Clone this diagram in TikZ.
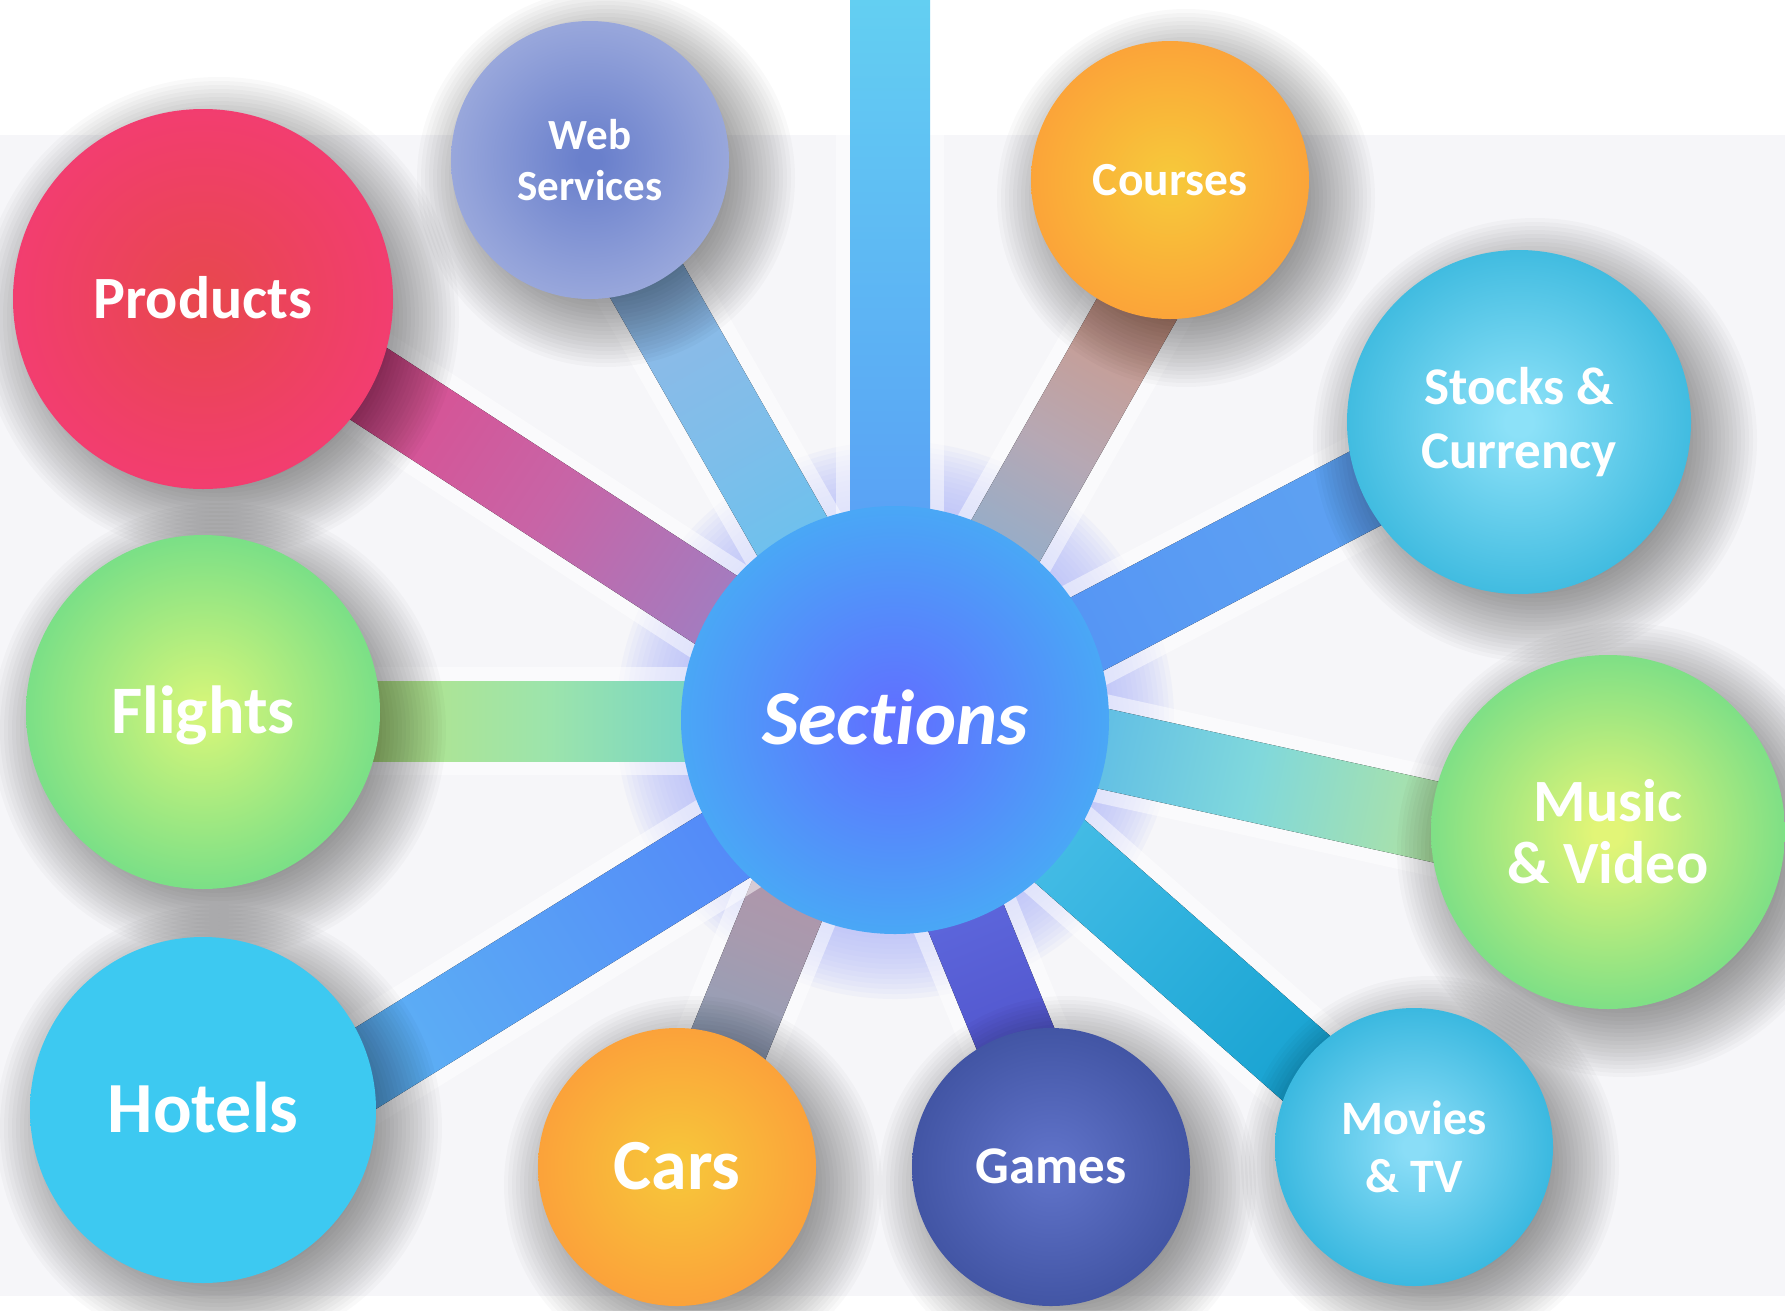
\documentclass[tikz,border=0pt]{standalone}
\usepackage{fontspec}
\setmainfont{Carlito}[Ligatures=NoCommon, RawFeature={-liga;-clig;-calt;-dlig}]
\usetikzlibrary{calc}
\pgfdeclarelayer{back}
\pgfsetlayers{back,main}

\definecolor{bgray}{HTML}{F6F6F9}
\definecolor{secin}{HTML}{5F72FF}\definecolor{secout}{HTML}{42BAF3}
\definecolor{prodin}{HTML}{E8474F}\definecolor{prodout}{HTML}{F63A7B}
\definecolor{webin}{HTML}{6A80CC}\definecolor{webout}{HTML}{A9B5E1}
\definecolor{coursin}{HTML}{F7C73A}\definecolor{coursout}{HTML}{FD9838}
\definecolor{stockin}{HTML}{8CE1F8}\definecolor{stockout}{HTML}{27AFD8}
\definecolor{flightin}{HTML}{D2F57A}\definecolor{flightout}{HTML}{5CD88B}
\definecolor{musicin}{HTML}{E2F577}\definecolor{musicout}{HTML}{5CD88B}
\definecolor{hotelc}{HTML}{3DC9F1}
\definecolor{carsin}{HTML}{F7C53A}\definecolor{carsout}{HTML}{FD963A}
\definecolor{gamesin}{HTML}{5F72C8}\definecolor{gamesout}{HTML}{384B98}
\definecolor{moviein}{HTML}{8ADDF7}\definecolor{movieout}{HTML}{1FACD8}
\definecolor{glowc}{HTML}{B8C0F8}
% connector colours: hub / middle / outer end
\definecolor{topA}{HTML}{5690F6}\definecolor{topB}{HTML}{5CB0F4}\definecolor{topC}{HTML}{63CFF2}
\definecolor{prA}{HTML}{7D95DA}\definecolor{prB}{HTML}{C864A6}\definecolor{prC}{HTML}{EC3A7C}
\definecolor{wbA}{HTML}{52C4F2}\definecolor{wbB}{HTML}{7EBEEA}\definecolor{wbC}{HTML}{A0B4E4}
\definecolor{coA}{HTML}{5CB6EC}\definecolor{coB}{HTML}{B6A8B4}\definecolor{coC}{HTML}{E48C62}
\definecolor{stA}{HTML}{4F8CF6}\definecolor{stB}{HTML}{5A9CF3}\definecolor{stC}{HTML}{62A8F0}
\definecolor{muA}{HTML}{3A9EF0}\definecolor{muB}{HTML}{80D8DC}\definecolor{muC}{HTML}{D8EC70}
\definecolor{mvA}{HTML}{62CAF0}\definecolor{mvB}{HTML}{30B2DE}\definecolor{mvC}{HTML}{0898C8}
\definecolor{gaA}{HTML}{6A7CF0}\definecolor{gaB}{HTML}{5A62D8}\definecolor{gaC}{HTML}{4848C0}
\definecolor{caA}{HTML}{C48AA0}\definecolor{caB}{HTML}{A89AAE}\definecolor{caC}{HTML}{78A8C4}
\definecolor{hoA}{HTML}{5078FA}\definecolor{hoB}{HTML}{589EF6}\definecolor{hoC}{HTML}{62C4F2}
\definecolor{flA}{HTML}{46C0E4}\definecolor{flB}{HTML}{9CE4AC}\definecolor{flC}{HTML}{CFE567}

\colorlet{orbin}{white}\colorlet{orbout}{black}
\pgfdeclareradialshading[orbin,orbout]{orbshade}{\pgfpointorigin}{color(0bp)=(orbin); color(2bp)=(orbin); color(33bp)=(orbout); color(50bp)=(orbout)}

\newcommand\connbar[5]{%
  \path let \p1=(#1), \p2=(#2) in \pgfextra{%
    \pgfmathsetmacro\tmpang{atan2(\y2-\y1,\x2-\x1)}%
    \pgfmathsetmacro\tmplen{veclen(\x2-\x1,\y2-\y1)}%
    \xdef\barang{\tmpang}\xdef\barlen{\tmplen}%
    \xdef\barx{\x1}\xdef\bary{\y1}};
  \fill[transform canvas={shift={(\barx,\bary)},rotate=\barang},
        white, fill opacity=0.5] (0pt,-54pt) rectangle (\barlen pt,54pt);
  \fill[transform canvas={shift={(\barx,\bary)},rotate=\barang},
        left color=#3, right color=#5, middle color=#4]
        (0pt,-40pt) rectangle (\barlen pt,40pt);
}

\begin{document}
\begin{tikzpicture}[x=1pt,y=-1pt,
  orb/.style n args={3}{circle, inner sep=0pt, minimum size=#1, shade, shading=orbshade,
     /utils/exec={\colorlet{orbin}{#2}\colorlet{orbout}{#3}}, text=white, align=center},
  shadowring/.style={fill=black, fill opacity=0.025},
  glowring/.style={fill=glowc, fill opacity=0.1}]

\useasboundingbox (0,0) rectangle (1785,1310);

% circles with their labels
\node[orb={428pt}{secin}{secout}, font=\fontsize{78}{90}\selectfont\bfseries\itshape,
      text height=49pt, text depth=0pt] (sec) at (895,720) {Sections};
\node[orb={380pt}{prodin}{prodout}, font=\fontsize{60}{70}\selectfont\bfseries,
      text height=38pt, text depth=0pt] (prod) at (203,299) {Products};
\node[orb={278pt}{webin}{webout}, font=\fontsize{43}{50.5}\selectfont\bfseries] (web) at (590,160) {Web\\Services};
\node[orb={278pt}{coursin}{coursout}, font=\fontsize{47.5}{55}\selectfont\bfseries,
      text height=30pt, text depth=0pt] (cour) at (1170,180) {Courses};
\node[orb={344pt}{stockin}{stockout}, font=\fontsize{53}{64}\selectfont\bfseries] (stock) at (1519,422) {Stocks \&\\Currency};
\node[orb={354pt}{flightin}{flightout}, font=\fontsize{68}{80}\selectfont\bfseries,
      text height=43pt, text depth=0pt] (flight) at (203,712) {Flights};
\node[orb={354pt}{musicin}{musicout}, font=\fontsize{60}{62}\selectfont\bfseries] (music) at (1608,832) {Music\\\& Video};
\node[orb={346pt}{hotelc}{hotelc}, font=\fontsize{72}{84}\selectfont\bfseries,
      text height=45.5pt, text depth=0pt] (hotel) at (203,1110) {Hotels};
\node[orb={278pt}{carsin}{carsout}, font=\fontsize{72}{84}\selectfont\bfseries,
      text height=45.5pt, text depth=0pt] (cars) at (677,1167) {Cars};
\node[orb={278pt}{gamesin}{gamesout}, font=\fontsize{53}{62}\selectfont\bfseries,
      text height=33.5pt, text depth=0pt] (games) at (1051,1167) {Games};
\node[orb={278pt}{moviein}{movieout}, font=\fontsize{48}{57.5}\selectfont\bfseries] (movie) at (1414,1147) {Movies\\\& TV};

% connector end points
\coordinate (hTop) at (890,720);   \coordinate (eTop) at (890,0);
\coordinate (hProd) at (896,727);  \coordinate (eProd) at (203,276);
\coordinate (hWeb) at (897,720);   \coordinate (eWeb) at (577,159);
\coordinate (hCour) at (904,720);  \coordinate (eCour) at (1210,180);
\coordinate (hStock) at (896,734); \coordinate (eStock) at (1519,408);
\coordinate (hMusic) at (896,703); \coordinate (eMusic) at (1608,860);
\coordinate (hMovie) at (896,707); \coordinate (eMovie) at (1414,1163);
\coordinate (hGames) at (885,720); \coordinate (eGames) at (1068,1167);
\coordinate (hCars) at (861,720);  \coordinate (eCars) at (678,1167);
\coordinate (hHotel) at (896,740); \coordinate (eHotel) at (203,1169);
\coordinate (hFlight) at (896,721);\coordinate (eFlight) at (203,721);

\begin{pgfonlayer}{back}
  \fill[white] (0,0) rectangle (1785,1310);
  \fill[bgray] (0,135) rectangle (1785,1296);
  \foreach \k in {0,...,13}{
    \pgfmathsetmacro\rad{214+5*\k}
    \fill[glowring] (sec) circle[radius=\rad pt];
  }

  \connbar{hTop}{eTop}{topA}{topB}{topC}
  \connbar{hProd}{eProd}{prA}{prB}{prC}
  \connbar{hWeb}{eWeb}{wbA}{wbB}{wbC}
  \connbar{hCour}{eCour}{coA}{coB}{coC}
  \connbar{hStock}{eStock}{stA}{stB}{stC}
  \connbar{hMusic}{eMusic}{muA}{muB}{muC}
  \connbar{hMovie}{eMovie}{mvA}{mvB}{mvC}
  \connbar{hGames}{eGames}{gaA}{gaB}{gaC}
  \connbar{hCars}{eCars}{caA}{caB}{caC}
  \connbar{hHotel}{eHotel}{hoA}{hoB}{hoC}
  \connbar{hFlight}{eFlight}{flA}{flB}{flC}

  \foreach \nd/\rr in {prod/190, web/139, cour/139, stock/172, flight/177,
                       music/177, hotel/173, cars/139, games/139, movie/139}{
    \foreach \k in {0,...,21}{
      \pgfmathsetmacro\rad{\rr+50-4*\k}
      \fill[shadowring] ($(\nd)+(16,18)$) circle[radius=\rad pt];
    }
  }
\end{pgfonlayer}
\end{tikzpicture}
\end{document}
